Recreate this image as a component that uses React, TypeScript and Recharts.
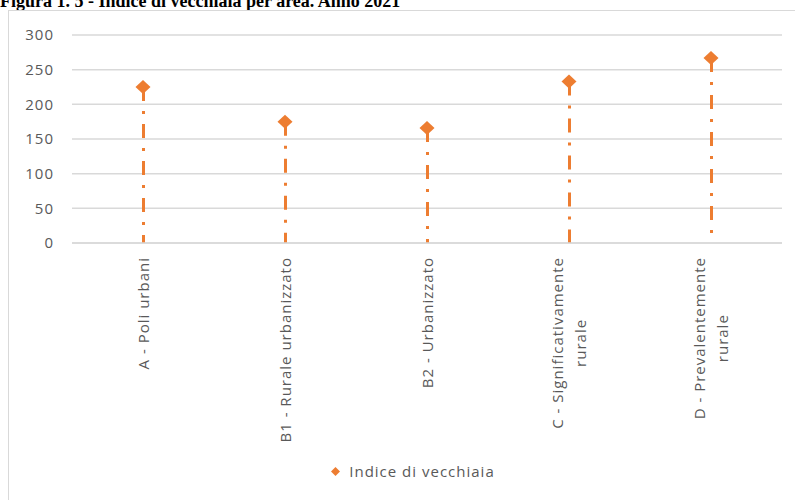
import { ComposedChart, Bar, Line, XAxis, YAxis, CartesianGrid, Legend } from "recharts";

const categories = [
  "A - Poli urbani",
  "B1 - Rurale urbanizzato",
  "B2 - Urbanizzato",
  "C - Significativamente rurale",
  "D - Prevalentemente rurale",
];
// how each category label wraps under the axis
const tickLines = [
  ["A - Poli urbani"],
  ["B1 - Rurale urbanizzato"],
  ["B2 - Urbanizzato"],
  ["C - Significativamente", "rurale"],
  ["D - Prevalentemente", "rurale"],
];
const indiceVecchiaia = [225, 175, 166, 233, 267];
const yTicks = [0, 50, 100, 150, 200, 250, 300];

const ORANGE = "#ED7D31";
const GRID = "#D9D9D9";
const TEXT = "#595959";
const FONT = "'Open Sans', sans-serif";
const FONT_SIZE = 15;
const LETTER = 1;

const data = categories.map((name, i) => ({ name, value: indiceVecchiaia[i] }));

let ctx: CanvasRenderingContext2D | null = null;
function textWidth(s: string) {
  if (!ctx) ctx = document.createElement("canvas").getContext("2d");
  if (!ctx) return s.length * 8;
  ctx.font = `${FONT_SIZE}px 'Open Sans'`;
  return ctx.measureText(s).width + s.length * LETTER;
}

function CategoryTick(props: any) {
  const { x, y, payload } = props;
  const idx = categories.indexOf(payload.value);
  const lines = tickLines[idx] || [payload.value];
  const top = y + 14;
  const gap = 23;
  const common = {
    fill: TEXT,
    fontSize: FONT_SIZE,
    fontFamily: FONT,
    letterSpacing: LETTER,
    dominantBaseline: "central" as const,
  };
  if (lines.length === 1) {
    return (
      <text x={x} y={top} transform={`rotate(-90, ${x}, ${top})`} textAnchor="end" {...common}>
        {lines[0]}
      </text>
    );
  }
  const w = Math.max(...lines.map(textWidth));
  const mid = top + w / 2;
  return (
    <g>
      {lines.map((l, i) => {
        const lx = x + (i - (lines.length - 1) / 2) * gap;
        return (
          <text key={i} x={lx} y={mid} transform={`rotate(-90, ${lx}, ${mid})`} textAnchor="middle" {...common}>
            {l}
          </text>
        );
      })}
    </g>
  );
}

function DropLine(props: any) {
  const { x, y, width, height } = props;
  const cx = x + width / 2;
  return (
    <line
      x1={cx}
      y1={y}
      x2={cx}
      y2={y + height}
      stroke={ORANGE}
      strokeWidth={3}
      strokeDasharray="14 10 3 10"
    />
  );
}

function DiamondDot(props: any) {
  const { cx, cy } = props;
  if (cx == null || cy == null) return null;
  return (
    <polygon
      points={`${cx},${cy - 7} ${cx + 7.5},${cy} ${cx},${cy + 7} ${cx - 7.5},${cy}`}
      fill={ORANGE}
    />
  );
}

function LegendContent(props: any) {
  const items = (props.payload || []).filter((p: any) => p.type !== "none");
  return (
    <div style={{ display: "flex", justifyContent: "center", alignItems: "center" }}>
      {items.map((p: any, i: number) => (
        <div key={i} style={{ display: "flex", alignItems: "center" }}>
          <svg width={9} height={9} style={{ marginRight: 9 }}>
            <polygon points="4.5,0 9,4.5 4.5,9 0,4.5" fill={ORANGE} />
          </svg>
          <span style={{ color: TEXT, fontSize: FONT_SIZE, letterSpacing: LETTER, fontFamily: FONT }}>
            {p.value}
          </span>
        </div>
      ))}
    </div>
  );
}

export default function App() {
  return (
    <div
      style={{
        position: "absolute",
        left: 0,
        top: 0,
        width: 795,
        height: 500,
        overflow: "hidden",
        background: "#fff",
      }}
    >
      <div
        style={{
          position: "absolute",
          left: 0,
          top: -8,
          fontFamily: "'Liberation Serif', serif",
          fontWeight: "bold",
          fontSize: 18,
          lineHeight: "18px",
          whiteSpace: "nowrap",
          color: "#000",
        }}
      >
        Figura 1. 5 - Indice di vecchiaia per area. Anno 2021
      </div>
      <div
        style={{
          position: "absolute",
          left: 8,
          top: 10,
          width: 820,
          height: 520,
          border: `1px solid ${GRID}`,
        }}
      >
        <ComposedChart
          width={787}
          height={490}
          data={data}
          margin={{ top: 24, right: 14, left: 0, bottom: 0 }}
          style={{ fontFamily: FONT }}
        >
          <CartesianGrid vertical={false} stroke={GRID} strokeWidth={1.5} />
          <XAxis
            dataKey="name"
            type="category"
            height={258}
            interval={0}
            axisLine={{ stroke: GRID, strokeWidth: 1.5 }}
            tickLine={false}
            tickSize={0}
            tickMargin={0}
            tick={<CategoryTick />}
          />
          <YAxis
            domain={[0, 300]}
            ticks={yTicks}
            width={63}
            axisLine={false}
            tickLine={false}
            tickSize={0}
            tickMargin={18}
            tick={{ fill: TEXT, fontSize: FONT_SIZE, fontFamily: FONT, letterSpacing: LETTER }}
          />
          <Bar
            dataKey="value"
            barSize={3}
            legendType="none"
            shape={<DropLine />}
            isAnimationActive={false}
          />
          <Line
            dataKey="value"
            name="Indice di vecchiaia"
            stroke={ORANGE}
            strokeWidth={0}
            strokeOpacity={0}
            legendType="diamond"
            dot={<DiamondDot />}
            activeDot={false}
            isAnimationActive={false}
          />
          <Legend
            layout="horizontal"
            verticalAlign="middle"
            align="center"
            content={<LegendContent />}
            wrapperStyle={{ top: 450, left: 304, width: 200 }}
          />
        </ComposedChart>
      </div>
    </div>
  );
}
